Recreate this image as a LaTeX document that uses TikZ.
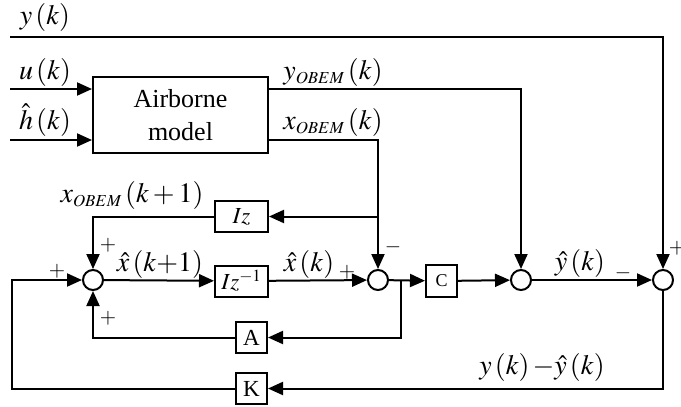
\documentclass[tikz,border=0pt]{standalone}
\usepackage{mathptmx}
\usepackage{fontspec}
\setmainfont{Liberation Serif}
\usetikzlibrary{arrows.meta, positioning}

\begin{document}
\begin{tikzpicture}[
  x=1pt, y=-1pt,
  block/.style={draw, line width=2pt, inner sep=0pt, font=\fontsize{23}{27}\selectfont},
  sumnode/.style={circle, draw, line width=2pt, minimum size=20pt, inner sep=0pt},
  lbl/.style={font=\fontsize{28}{32}\selectfont, inner sep=0pt},
  sgn/.style={font=\fontsize{21}{24}\selectfont, inner sep=0pt},
  line width=2pt, >={Triangle[length=15pt,width=13pt]}
]
  \useasboundingbox (0,0) rectangle (681,407);

  % sums
  \node[sumnode] (sumA) at (93,280) {};
  \node[sumnode] (sumB) at (378,280) {};
  \node[sumnode] (sumC) at (521,280) {};
  \node[sumnode] (sumD) at (663,280) {};

  % blocks
  \node[block, minimum width=175pt, minimum height=76pt, align=center,
        font=\fontsize{26}{33}\selectfont] (model) at (180.5,115) {Airborne\\model};
  \node[block, minimum width=53pt, minimum height=31pt] (iz) at (241.5,216.5) {$Iz$};
  \node[block, minimum width=53pt, minimum height=31pt] (izinv) at (241.5,281) {$Iz^{-1}$};
  \node[block, minimum width=31pt, minimum height=31pt] (amat) at (251.5,337.5) {A};
  \node[block, minimum width=31pt, minimum height=31pt] (kmat) at (251.5,388.5) {K};
  \node[block, minimum width=31pt, minimum height=32pt,
        font=\fontsize{18}{20}\selectfont] (cmat) at (441.5,281) {C};

  \coordinate (yin) at (10,37);
  \coordinate (uin) at (10,89);
  \coordinate (hin) at (10,140);
  \coordinate (br) at (401,280);
  \coordinate (fb) at (12,280);

  % connections
  \draw[->] (yin) -- (yin -| sumD) -- (sumD);
  \draw[->] (uin) -- (uin -| model.west);
  \draw[->] (hin) -- (hin -| model.west);
  \draw[->] (uin -| model.east) -- (uin -| sumC) -- (sumC);
  \draw[->] (hin -| model.east) -- (hin -| sumB) -- (sumB);
  \draw[->] (iz -| sumB) -- (iz);
  \draw[->] (iz) -| (sumA);
  \draw[->] (sumA) -- (izinv);
  \draw[->] (izinv) -- (sumB);
  \draw[->] (sumB) -- (cmat);
  \draw[->] (br) |- (amat);
  \draw[->] (amat) -| (sumA);
  \draw[->] (cmat) -- (sumC);
  \draw[->] (sumC) -- (sumD);
  \draw[->] (sumD) |- (kmat);
  \draw[->] (kmat) -| (fb) -- (sumA);

  % labels
  \node[lbl] (ylab) at (45,17) {$y\left(k\right)$};
  \node[lbl] (ulab) at (45,72) {$u\left(k\right)$};
  \node[lbl] (hlab) at (45,120) {$\hat{h}\left(k\right)$};
  \node[lbl] (yolab) at (333,72) {$y_{\scriptscriptstyle OBEM}\left(k\right)$};
  \node[lbl] (xolab) at (333,122) {$x_{\scriptscriptstyle OBEM}\left(k\right)$};
  \node[lbl] (xonext) at (132,195) {$x_{\scriptscriptstyle OBEM}\left(k+1\right)$};
  \node[lbl] (xhnext) at (160,264) {$\hat{x}\left(k{+}1\right)$};
  \node[lbl] (xhlab) at (309,264) {$\hat{x}\left(k\right)$};
  \node[lbl] (yhlab) at (580,263) {$\hat{y}\left(k\right)$};
  \node[lbl] (errlab) at (542,367) {$y\left(k\right){-}\hat{y}\left(k\right)$};

  % signs
  \node[sgn] (sA1) at (108,245) {$+$};
  \node[sgn] (sA2) at (57,271) {$+$};
  \node[sgn] (sA3) at (108,318) {$+$};
  \node[sgn] (sB1) at (347,272) {$+$};
  \node[sgn] (sB2) at (393,247) {$-$};
  \node[sgn] (sD1) at (623,273) {$-$};
  \node[sgn] (sD2) at (677,248) {$+$};
\end{tikzpicture}
\end{document}
